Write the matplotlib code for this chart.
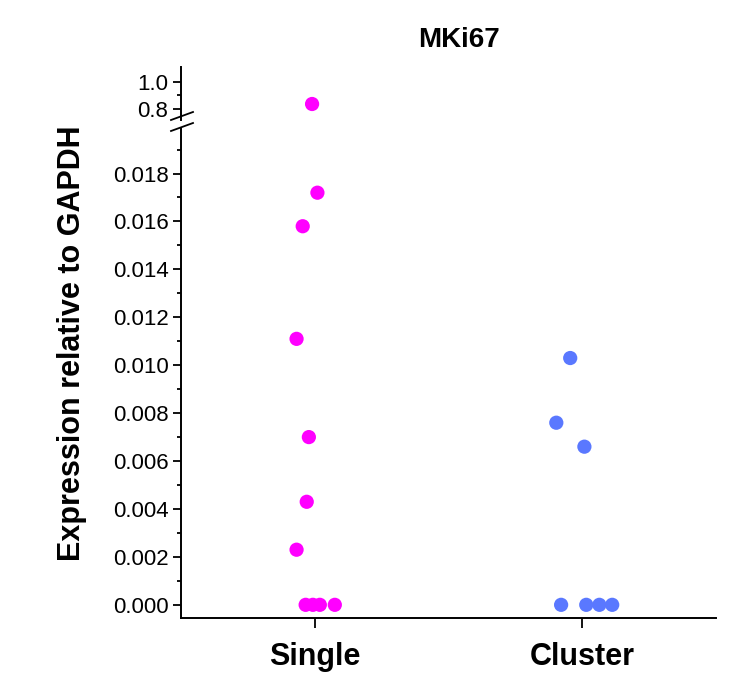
import matplotlib
matplotlib.use('Agg')
import matplotlib.pyplot as plt
from matplotlib.ticker import MultipleLocator

plt.rcParams['font.family'] = ['Liberation Sans', 'DejaVu Sans']

# data
groups = ['Single', 'Cluster']
single_vals = [0.837, 0.0172, 0.0158, 0.0111, 0.0070, 0.0043, 0.0023, 0.0, 0.0, 0.0, 0.0]
single_jitter = [-0.01, 0.01, -0.045, -0.068, -0.022, -0.03, -0.068, -0.034, -0.007, 0.019, 0.075]
cluster_vals = [0.0103, 0.0076, 0.0066, 0.0, 0.0, 0.0, 0.0]
cluster_jitter = [-0.045, -0.097, 0.008, -0.079, 0.015, 0.064, 0.112]
colors = ['#FF00FF', '#5A78FF']

W, H = 745, 675
fig = plt.figure(figsize=(W / 100, H / 100), dpi=100)
ax_lo = fig.add_axes([181 / W, 1 - 618 / H, 535 / W, (618 - 128) / H])
ax_hi = fig.add_axes([181 / W, 1 - 120 / H, 535 / W, (120 - 67) / H])

for i, (vals, jit) in enumerate([(single_vals, single_jitter), (cluster_vals, cluster_jitter)]):
    xs = [i + j for j in jit]
    for ax in (ax_lo, ax_hi):
        ax.scatter(xs, vals, s=105, color=colors[i], edgecolors='none', zorder=3, clip_on=True)

ax_lo.set_ylim(-0.00055, 0.0199)
ax_hi.set_ylim(0.7185, 1.111)
for ax in (ax_lo, ax_hi):
    ax.set_xlim(-0.5, 1.5)
    ax.spines['top'].set_visible(False)
    ax.spines['right'].set_visible(False)
    ax.spines['left'].set_linewidth(1.4)
    ax.spines['bottom'].set_linewidth(1.4)
    ax.tick_params(axis='y', which='major', length=6, width=1.3, labelsize=16, pad=3)
    ax.tick_params(axis='y', which='minor', length=3, width=1.3)
    ax.patch.set_alpha(0)

ax_lo.yaxis.set_major_locator(MultipleLocator(0.002))
ax_lo.yaxis.set_minor_locator(MultipleLocator(0.001))
ax_lo.yaxis.set_major_formatter(plt.FormatStrFormatter('%.3f'))
ax_hi.yaxis.set_major_locator(plt.FixedLocator([0.8, 1.0]))
ax_hi.yaxis.set_minor_locator(plt.FixedLocator([0.9]))
ax_hi.yaxis.set_major_formatter(plt.FormatStrFormatter('%.1f'))

ax_hi.spines['bottom'].set_visible(False)
ax_hi.set_xticks([])

ax_lo.set_xticks([0, 1])
ax_lo.set_xticklabels(groups, fontsize=22, fontweight='bold')
ax_lo.tick_params(axis='x', length=7, width=1.3, pad=10)

# break marks on the y axis
for yy in (116, 127):
    fig.add_artist(plt.Line2D([171 / W, 193 / W], [1 - (yy + 4) / H, 1 - (yy - 4) / H],
                              color='black', lw=1.3))

fig.text(72 / W, 1 - 343 / H, 'Expression relative to GAPDH', rotation=90,
         fontsize=22, fontweight='bold', ha='center', va='center')
fig.text(459 / W, 1 - 40 / H, 'MKi67', fontsize=20, fontweight='bold', ha='center', va='center')

fig.savefig('out.png', dpi=100)
